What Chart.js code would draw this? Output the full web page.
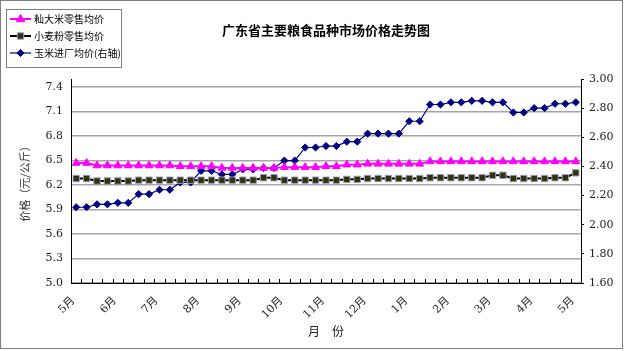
<!DOCTYPE html>
<html>
<head>
<meta charset="utf-8">
<script src="https://cdn.jsdelivr.net/npm/chart.js@4/dist/chart.umd.min.js"></script>
<style>
html,body{margin:0;padding:0;background:#fff;overflow:hidden}
canvas{display:block}
</style>
</head>
<body>
<canvas id="c" width="624" height="351"></canvas>
<script>
const chartTitle = '广东省主要粮食品种市场价格走势图';
const categories = ['5月','','','','6月','','','','7月','','','','8月','','','','9月','','','','10月','','','','11月','','','','12月','','','','1月','','','','2月','','','','3月','','','','4月','','','','5月'];
const riceLabel = '籼大米零售均价';
const flourLabel = '小麦粉零售均价';
const cornLabel = '玉米进厂均价(右轴)';
const riceValues = [6.47,6.47,6.44,6.44,6.44,6.44,6.44,6.44,6.44,6.44,6.43,6.43,6.43,6.43,6.41,6.41,6.41,6.41,6.41,6.41,6.42,6.42,6.42,6.42,6.43,6.43,6.45,6.45,6.46,6.46,6.46,6.46,6.46,6.46,6.49,6.49,6.49,6.49,6.49,6.49,6.49,6.49,6.49,6.49,6.49,6.49,6.49,6.49,6.49];
const flourValues = [6.28,6.28,6.25,6.25,6.25,6.25,6.26,6.26,6.26,6.26,6.26,6.26,6.26,6.26,6.26,6.26,6.26,6.26,6.29,6.29,6.26,6.26,6.26,6.26,6.26,6.26,6.27,6.27,6.28,6.28,6.28,6.28,6.28,6.28,6.29,6.29,6.29,6.29,6.29,6.29,6.32,6.32,6.28,6.28,6.28,6.28,6.29,6.29,6.35];
const cornValues = [2.12,2.12,2.14,2.14,2.15,2.15,2.21,2.21,2.24,2.24,2.29,2.29,2.37,2.37,2.345,2.345,2.38,2.38,2.39,2.39,2.44,2.44,2.53,2.53,2.54,2.54,2.57,2.57,2.625,2.625,2.625,2.625,2.71,2.71,2.825,2.825,2.84,2.84,2.85,2.85,2.84,2.84,2.77,2.77,2.80,2.80,2.83,2.83,2.84];
const leftTicks = [5.0,5.3,5.6,5.9,6.2,6.5,6.8,7.1,7.4];
const rightTicks = [1.6,1.8,2.0,2.2,2.4,2.6,2.8,3.0];
const yTitle = '价格（元/公斤）';
const xTitle = '月　份';

const numFont = '"DejaVu Serif", "Noto Sans CJK SC", serif';
const cjkFont = '"Noto Sans CJK SC", sans-serif';

function drawMarker(ctx, style, x, y, r, fill, stroke, bw) {
  ctx.beginPath();
  if (style === 'triangle') {
    ctx.moveTo(x, y - r);
    ctx.lineTo(x + r * 0.95, y + r * 0.6);
    ctx.lineTo(x - r * 0.95, y + r * 0.6);
    ctx.closePath();
  } else if (style === 'rect') {
    const s = r * Math.SQRT1_2;
    ctx.rect(x - s, y - s, 2 * s, 2 * s);
  } else {
    ctx.moveTo(x, y - r); ctx.lineTo(x + r, y); ctx.lineTo(x, y + r); ctx.lineTo(x - r, y); ctx.closePath();
  }
  ctx.fillStyle = fill; ctx.fill();
  ctx.strokeStyle = stroke; ctx.lineWidth = bw; ctx.stroke();
}

const decor = {
  id: 'decor',
  beforeDraw(chart) {
    const ctx = chart.ctx;
    ctx.save();
    ctx.fillStyle = '#fff';
    ctx.fillRect(0, 0, chart.width, chart.height);
    ctx.restore();
  },
  afterDraw(chart) {
    const { ctx, chartArea } = chart;
    const xs = chart.scales.x;
    ctx.save();
    // inward tick marks at category boundaries
    const labels = chart.data.labels;
    const n = labels.length;
    const step = (xs.right - xs.left) / n;
    ctx.strokeStyle = '#000'; ctx.lineWidth = 1;
    ctx.beginPath();
    for (let i = 1; i < n; i++) {
      const px = Math.round(xs.left + i * step) + 0.5;
      ctx.moveTo(px, chartArea.bottom);
      ctx.lineTo(px, chartArea.bottom - 4);
    }
    ctx.stroke();
    // rotated category labels
    ctx.fillStyle = '#222';
    ctx.font = '11px ' + numFont;
    ctx.textAlign = 'right'; ctx.textBaseline = 'middle';
    labels.forEach((lab, i) => {
      if (!lab) return;
      const px = xs.getPixelForValue(i);
      ctx.save();
      ctx.translate(px - 3, chartArea.bottom + 16);
      ctx.rotate(-Math.PI / 4);
      ctx.fillText(lab, 0, 0);
      ctx.restore();
    });
    // title
    ctx.fillStyle = '#000';
    ctx.font = 'bold 13px ' + cjkFont;
    ctx.textAlign = 'center'; ctx.textBaseline = 'middle';
    ctx.fillText(chartTitle, (chartArea.left + chartArea.right) / 2, 30);
    // legend
    const lx = 6.5, ly = 9.5, lw = 115, lh = 58;
    ctx.fillStyle = '#fff'; ctx.fillRect(lx, ly, lw, lh);
    ctx.strokeStyle = '#808080'; ctx.lineWidth = 1; ctx.strokeRect(lx, ly, lw, lh);
    ctx.font = '10px ' + cjkFont; ctx.textAlign = 'left'; ctx.textBaseline = 'middle';
    chart.data.datasets.forEach((ds, k) => {
      const cy = 19 + k * 17;
      ctx.strokeStyle = ds.borderColor; ctx.lineWidth = ds.borderWidth;
      ctx.beginPath(); ctx.moveTo(10, cy); ctx.lineTo(31, cy); ctx.stroke();
      drawMarker(ctx, ds.pointStyle, 20.5, cy, ds.pointRadius, ds.pointBackgroundColor, ds.pointBorderColor, 1);
      ctx.fillStyle = '#000';
      ctx.fillText(ds.label, 34, cy);
    });
    // outer frame
    ctx.strokeStyle = '#7f7f7f'; ctx.lineWidth = 1;
    ctx.strokeRect(0.5, 0.5, chart.width - 2, chart.height - 3);
    ctx.restore();
  }
};

new Chart(document.getElementById('c'), {
  type: 'line',
  data: {
    labels: categories,
    datasets: [
      { label: riceLabel, data: riceValues, yAxisID: 'y', borderColor: '#ff00ff', borderWidth: 2,
        pointStyle: 'triangle', pointRadius: 4.5, pointBackgroundColor: '#ff00ff', pointBorderColor: '#ff00ff', pointBorderWidth: 1, tension: 0 },
      { label: flourLabel, data: flourValues, yAxisID: 'y', borderColor: '#000000', borderWidth: 2,
        pointStyle: 'rect', pointRadius: 4.5, pointBackgroundColor: '#333300', pointBorderColor: '#9999cc', pointBorderWidth: 1, tension: 0 },
      { label: cornLabel, data: cornValues, yAxisID: 'y1', borderColor: '#000080', borderWidth: 1.2,
        pointStyle: 'rectRot', pointRadius: 3.6, pointBackgroundColor: '#000080', pointBorderColor: '#000080', pointBorderWidth: 1, tension: 0 }
    ]
  },
  options: {
    responsive: false,
    animation: false,
    devicePixelRatio: 1,
    layout: { padding: { top: 79, left: 0, right: 0, bottom: 0 } },
    plugins: { legend: { display: false }, title: { display: false }, tooltip: { enabled: false } },
    scales: {
      x: {
        type: 'category', offset: true,
        grid: { display: false, drawTicks: false },
        border: { display: true, color: '#000', width: 1 },
        ticks: { display: false, autoSkip: false },
        title: { display: true, text: xTitle, color: '#222', font: { family: cjkFont, size: 12 }, padding: { top: 0, bottom: 12 } },
        afterFit: s => { s.height = 68; }
      },
      y: {
        position: 'left', min: 5.0, max: 7.5,
        afterBuildTicks: s => { s.ticks = leftTicks.map(v => ({ value: v })); },
        ticks: { callback: v => Number(v).toFixed(1), padding: 8, color: '#222', font: { family: numFont, size: 11 } },
        grid: { color: '#a6a6a6', lineWidth: 1.5, drawTicks: false },
        border: { display: true, color: '#000', width: 1 },
        title: { display: true, text: yTitle, color: '#333', font: { family: cjkFont, size: 11 }, padding: { top: 18, bottom: 0 } },
        afterFit: s => { s.width = 71; }
      },
      y1: {
        position: 'right', min: 1.6, max: 3.0,
        afterBuildTicks: s => { s.ticks = rightTicks.map(v => ({ value: v })); },
        ticks: { callback: v => Number(v).toFixed(2), padding: 5, color: '#222', font: { family: numFont, size: 11 } },
        grid: { drawOnChartArea: false, drawTicks: true, tickLength: 3, color: '#000' },
        border: { display: true, color: '#000', width: 1 },
        afterFit: s => { s.width = 43; }
      }
    }
  },
  plugins: [decor]
});
</script>
</body>
</html>
